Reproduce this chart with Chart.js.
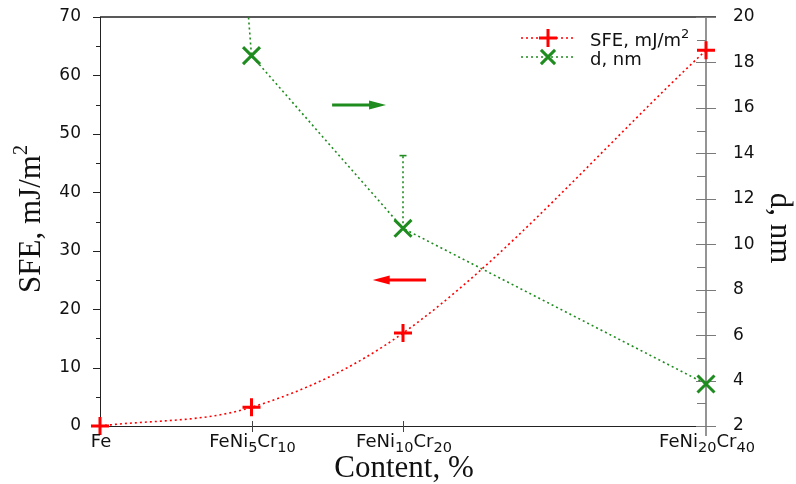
<!DOCTYPE html>
<html>
<head>
<meta charset="utf-8">
<script src="https://cdn.jsdelivr.net/npm/chart.js@4/dist/chart.umd.min.js"></script>
<style>
  html, body { margin: 0; padding: 0; background: #ffffff; }
  canvas { display: block; }
</style>
</head>
<body>
<canvas id="c" width="796" height="484"></canvas>
<script>
// Alloys along the x axis, placed by their Ni content
const categories = ['Fe', 'FeNi_{5}Cr_{10}', 'FeNi_{10}Cr_{20}', 'FeNi_{20}Cr_{40}'];
const niContent = [0, 5, 10, 20];

// Stacking fault energy, mJ/m^2 (left axis)
const sfe = [0, 3.2, 15.9, 64.3];

// Splitting width d, nm (right axis); the Fe value lies far above the axis range
const dWidth = [104, 18.3, 10.7, 3.85];

// Upper error bar of d for FeNi10Cr20
const dErrIndex = 2;
const dErrTop = 13.9;

// Tick values
const sfeTicks = [0, 10, 20, 30, 40, 50, 60, 70];
const dTicks = [2, 4, 6, 8, 10, 12, 14, 16, 18, 20];

// Arrows telling which axis each curve belongs to (data coordinates)
const arrowNotes = [
  { axis: 'y1', x0: 7.66, x1: 9.44, y: 16.13, color: '#1f8c1f' },
  { axis: 'y',  x0: 10.76, x1: 9.0, y: 25.0, color: '#ff0000' }
];

const RED = '#ff0000';
const GREEN = '#1f8c1f';
const SANS = '"DejaVu Sans", sans-serif';
const SERIF = '"Liberation Serif", "Times New Roman", serif';

// --- rich text with _{sub} and ^{sup} ---------------------------------
function parseRich(s) {
  const out = [];
  const re = /([_^])\{([^}]*)\}/g;
  let last = 0, m;
  while ((m = re.exec(s)) !== null) {
    if (m.index > last) out.push({ t: s.slice(last, m.index), mode: 'n' });
    out.push({ t: m[2], mode: m[1] === '_' ? 'sub' : 'sup' });
    last = re.lastIndex;
  }
  if (last < s.length) out.push({ t: s.slice(last), mode: 'n' });
  return out;
}
function richWidth(ctx, segs, st) {
  let w = 0;
  for (const sg of segs) {
    ctx.font = (sg.mode === 'n' ? st.size : st.small) + 'px ' + st.family;
    w += ctx.measureText(sg.t).width;
  }
  return w;
}
function drawRich(ctx, s, x, y, align, st) {
  const segs = parseRich(s);
  const w = richWidth(ctx, segs, st);
  let cx = align === 'center' ? x - w / 2 : (align === 'right' ? x - w : x);
  ctx.textAlign = 'left';
  ctx.textBaseline = 'alphabetic';
  ctx.fillStyle = st.color || '#111';
  for (const sg of segs) {
    ctx.font = (sg.mode === 'n' ? st.size : st.small) + 'px ' + st.family;
    const dy = sg.mode === 'sub' ? st.subShift : (sg.mode === 'sup' ? st.supShift : 0);
    ctx.fillText(sg.t, cx, y + dy);
    cx += ctx.measureText(sg.t).width;
  }
}

function line(ctx, x0, y0, x1, y1) {
  ctx.beginPath(); ctx.moveTo(x0, y0); ctx.lineTo(x1, y1); ctx.stroke();
}

// --- frame, axis lines and tick marks -----------------------------------
const framePlugin = {
  id: 'frame',
  beforeDatasetsDraw(chart) {
    const { ctx, chartArea: a, scales } = chart;
    const x = scales.x, yl = scales.y, yr = scales.y1;
    ctx.save();
    ctx.lineCap = 'butt';
    // left axis + bottom + top
    ctx.strokeStyle = '#222';
    ctx.lineWidth = 1;
    line(ctx, a.left + 0.5, a.top, a.left + 0.5, a.bottom);
    line(ctx, a.left, a.bottom + 0.5, a.right + 10, a.bottom + 0.5);
    ctx.lineWidth = 1.5;
    line(ctx, a.left, a.top, a.right + 10, a.top);
    // left ticks: majors and minors
    ctx.lineWidth = 1;
    for (let v = yl.min; v <= yl.max + 1e-9; v += 5) {
      const py = Math.round(yl.getPixelForValue(v)) + 0.5;
      const major = Math.abs(v % 10) < 1e-9;
      line(ctx, a.left - (major ? 7 : 4), py, a.left, py);
    }
    // x ticks
    ctx.strokeStyle = '#444';
    for (const v of niContent) {
      if (v === x.min || v === x.max) continue;
      const px = Math.round(x.getPixelForValue(v)) + 0.5;
      line(ctx, px, a.bottom - 5, px, a.bottom + 6);
    }
    // right axis (grey)
    ctx.strokeStyle = '#7a7a7a';
    ctx.lineWidth = 1.6;
    line(ctx, a.right, a.top, a.right, a.bottom + 10);
    ctx.lineWidth = 1;
    for (let v = yr.min; v <= yr.max + 1e-9; v += 1) {
      const py = Math.round(yr.getPixelForValue(v)) + 0.5;
      const major = Math.abs(v % 2) < 1e-9;
      if (major) line(ctx, a.right - 10, py, a.right + 10, py);
      else line(ctx, a.right - 9, py, a.right, py);
    }
    ctx.restore();
  },
  afterDatasetsDraw(chart) {
    const { ctx, chartArea: a, scales } = chart;
    const x = scales.x;
    ctx.save();

    // arrows
    for (const n of arrowNotes) {
      const ys = scales[n.axis];
      const px0 = x.getPixelForValue(n.x0), px1 = x.getPixelForValue(n.x1);
      const py = ys.getPixelForValue(n.y);
      const dir = Math.sign(px1 - px0);
      const head = 17, half = 4.5;
      ctx.strokeStyle = n.color; ctx.fillStyle = n.color;
      ctx.lineWidth = 3;
      line(ctx, px0, py, px1 - dir * (head - 2), py);
      ctx.beginPath();
      ctx.moveTo(px1, py);
      ctx.lineTo(px1 - dir * head, py - half);
      ctx.lineTo(px1 - dir * head, py + half);
      ctx.closePath();
      ctx.fill();
    }

    // x tick labels with subscripts
    const tickStyle = { size: 18, small: 14.5, family: SANS, subShift: 5, supShift: -7, color: '#111' };
    categories.forEach((c, i) => {
      drawRich(ctx, c, x.getPixelForValue(niContent[i]) + 1, a.bottom + 21, 'center', tickStyle);
    });

    // axis titles
    const titleStyle = { size: 31, small: 20, family: SERIF, subShift: 6, supShift: -13, color: '#111' };
    drawRich(ctx, 'Content, %', (a.left + a.right) / 2 + 1, 477, 'center', titleStyle);
    ctx.save();
    ctx.translate(40, 219);
    ctx.rotate(-Math.PI / 2);
    drawRich(ctx, 'SFE, mJ/m^{2}', 0, 0, 'center', titleStyle);
    ctx.restore();
    ctx.save();
    ctx.translate(771, 228);
    ctx.rotate(Math.PI / 2);
    drawRich(ctx, 'd, nm', 0, 0, 'center', titleStyle);
    ctx.restore();

    // legend
    const legStyle = { size: 18, small: 13, family: SANS, subShift: 5, supShift: -8, color: '#111' };
    const rows = [
      { label: 'SFE, mJ/m^{2}', color: RED, style: 'cross', r: 9, y: 38 },
      { label: 'd, nm', color: GREEN, style: 'crossRot', r: 10, y: 57 }
    ];
    for (const r of rows) {
      ctx.strokeStyle = r.color;
      ctx.lineWidth = 1.6;
      ctx.setLineDash([2, 3]);
      line(ctx, 521, r.y, 575, r.y);
      ctx.setLineDash([]);
      ctx.lineWidth = 3;
      Chart.helpers.drawPoint(ctx, { pointStyle: r.style, radius: r.r, borderWidth: 3, rotation: 0 }, 548, r.y);
      drawRich(ctx, r.label, 590, r.y + 8, 'left', legStyle);
    }
    ctx.restore();
  }
};

const tickFont = { family: SANS, size: 17 };
const noPad = s => { s.paddingTop = 0; s.paddingBottom = 0; s.paddingLeft = 0; s.paddingRight = 0; };

new Chart(document.getElementById('c'), {
  type: 'line',
  data: {
    datasets: [
      {
        label: 'SFE, mJ/m2',
        yAxisID: 'y',
        data: niContent.map((v, i) => ({ x: v, y: sfe[i] })),
        borderColor: RED,
        borderWidth: 1.6,
        borderDash: [2, 3],
        cubicInterpolationMode: 'monotone',
        pointStyle: 'cross',
        pointRadius: 9,
        pointBorderWidth: 3,
        pointBorderColor: RED,
        pointBackgroundColor: RED,
        clip: false,
        order: 1
      },
      {
        label: 'd, nm',
        yAxisID: 'y1',
        data: niContent.map((v, i) => ({ x: v, y: dWidth[i] })),
        borderColor: GREEN,
        borderWidth: 1.6,
        borderDash: [2, 3],
        tension: 0,
        pointStyle: 'crossRot',
        pointRadius: 12,
        pointBorderWidth: 3,
        pointBorderColor: GREEN,
        pointBackgroundColor: GREEN,
        clip: { left: false, right: false, bottom: false, top: 0 },
        order: 2
      },
      {
        label: 'd error',
        yAxisID: 'y1',
        data: [
          { x: niContent[dErrIndex], y: dWidth[dErrIndex] },
          { x: niContent[dErrIndex], y: dErrTop }
        ],
        borderColor: GREEN,
        borderWidth: 1.6,
        borderDash: [2, 3],
        pointStyle: 'line',
        pointRadius: [0, 3.5],
        pointBorderWidth: 1.6,
        pointBorderColor: GREEN,
        clip: false,
        order: 3
      }
    ]
  },
  options: {
    responsive: false,
    devicePixelRatio: 1,
    animation: false,
    layout: { padding: { top: 17, left: 0, right: 0, bottom: 0 } },
    plugins: { legend: { display: false }, tooltip: { enabled: false } },
    scales: {
      x: {
        type: 'linear',
        position: 'bottom',
        min: 0,
        max: 20,
        afterBuildTicks: s => { s.ticks = niContent.map(v => ({ value: v })); },
        afterFit: s => { s.height = 58; noPad(s); },
        ticks: { display: false },
        grid: { display: false, drawTicks: false },
        border: { display: false }
      },
      y: {
        position: 'left',
        min: 0,
        max: 70,
        afterBuildTicks: s => { s.ticks = sfeTicks.map(v => ({ value: v })); },
        afterFit: s => { s.width = 100; noPad(s); },
        ticks: { font: tickFont, color: '#111', padding: 19 },
        grid: { display: false, drawTicks: false },
        border: { display: false }
      },
      y1: {
        position: 'right',
        min: 2,
        max: 20,
        afterBuildTicks: s => { s.ticks = dTicks.map(v => ({ value: v })); },
        afterFit: s => { s.width = 90; noPad(s); },
        ticks: { font: tickFont, color: '#111', padding: 27 },
        grid: { display: false, drawTicks: false },
        border: { display: false }
      }
    }
  },
  plugins: [framePlugin]
});
</script>
</body>
</html>
